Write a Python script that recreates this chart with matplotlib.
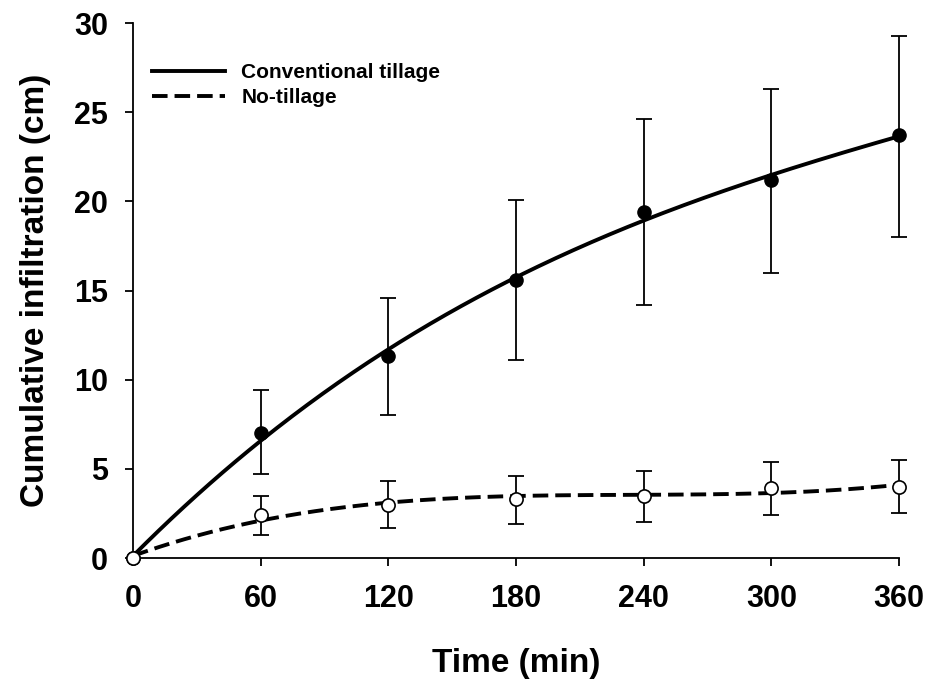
import numpy as np
import matplotlib
matplotlib.use('Agg')
from matplotlib import pyplot as plt

plt.rcParams['font.family'] = ['Liberation Sans', 'DejaVu Sans']
plt.rcParams['font.weight'] = 'bold'

time_min = [0, 60, 120, 180, 240, 300, 360]

ct_mean = [0.0, 7.0, 11.3, 15.6, 19.4, 21.2, 23.7]
ct_low = [0.0, 4.7, 8.0, 11.1, 14.2, 16.0, 18.0]
ct_high = [0.0, 9.4, 14.6, 20.1, 24.6, 26.3, 29.3]

nt_mean = [0.0, 2.4, 3.0, 3.3, 3.5, 3.9, 4.0]
nt_low = [0.0, 1.3, 1.7, 1.9, 2.0, 2.4, 2.5]
nt_high = [0.0, 3.5, 4.3, 4.6, 4.9, 5.4, 5.5]


def errs(mean, low, high):
    mean = np.array(mean)
    return np.array([mean - np.array(low), np.array(high) - mean])


fig = plt.figure(figsize=(9.31, 6.81), dpi=100)
ax = fig.add_axes([0.143, 0.1806, 0.8226, 0.7856])

# regression curves fitted to the means
t = np.array(time_min, dtype=float)
tt = np.linspace(0, 360, 300)
ct_fit = np.polyval(np.polyfit(t, ct_mean, 3), tt)
nt_fit = np.polyval(np.polyfit(t, nt_mean, 3), tt)

ax.plot(tt, ct_fit, color='black', lw=2.8, label='Conventional tillage', zorder=3)
ax.plot(tt, nt_fit, color='black', lw=2.8, ls=(0, (4, 1.8)), label='No-tillage', zorder=3)

for mean, low, high in [(ct_mean, ct_low, ct_high), (nt_mean, nt_low, nt_high)]:
    eb = ax.errorbar(time_min[1:], mean[1:], yerr=errs(mean, low, high)[:, 1:],
                     fmt='none', ecolor='black', elinewidth=1.3, capsize=6, capthick=1.3, zorder=2)
    for art in eb.lines[1] + eb.lines[2]:
        art.set_clip_on(False)

ax.plot(time_min, ct_mean, 'o', color='black', ms=9.5, zorder=4, clip_on=False)
ax.plot(time_min, nt_mean, 'o', mfc='white', mec='black', mew=1.2, ms=9.5, zorder=4, clip_on=False)

ax.set_xlim(0, 360)
ax.set_ylim(0, 30)
ax.set_xticks(range(0, 361, 60))
ax.set_yticks(range(0, 31, 5))
ax.spines['top'].set_visible(False)
ax.spines['right'].set_visible(False)
ax.spines['left'].set_linewidth(1.3)
ax.spines['bottom'].set_linewidth(1.3)
ax.tick_params(direction='out', length=6, width=1.3, labelsize=22)
ax.tick_params(axis='x', pad=13)
ax.tick_params(axis='y', pad=12)
ax.set_xlabel('Time (min)', fontsize=24, fontweight='bold', labelpad=24)
ax.set_ylabel('Cumulative infiltration (cm)', fontsize=24, fontweight='bold', labelpad=17)

leg = ax.legend(loc='upper left', bbox_to_anchor=(0.0, 0.96), frameon=False,
                fontsize=15, handlelength=3.5, handletextpad=0.8, labelspacing=0.3)
for txt in leg.get_texts():
    txt.set_fontweight('bold')

fig.savefig('out.png', dpi=100)
